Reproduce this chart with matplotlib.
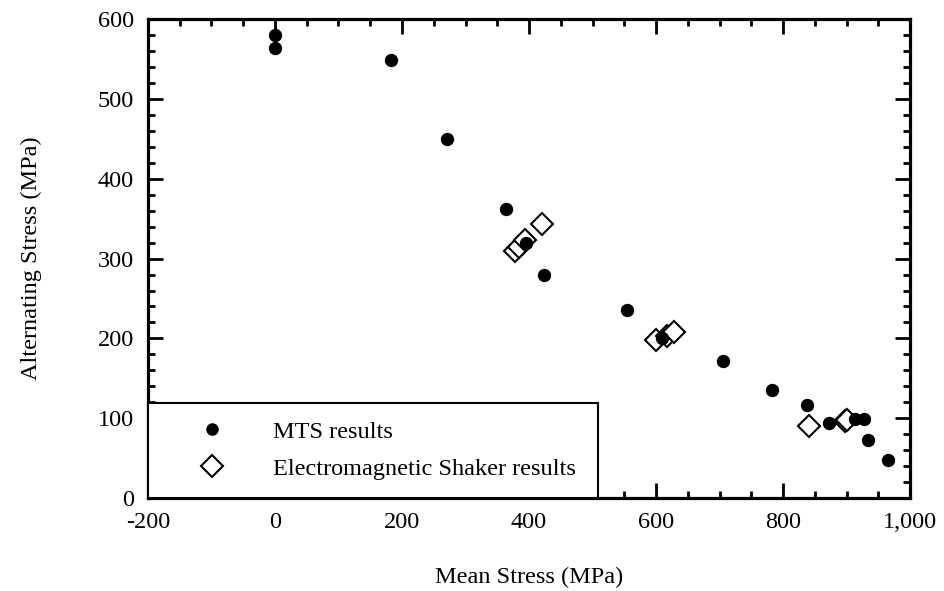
import matplotlib
matplotlib.use('Agg')
import matplotlib.pyplot as plt
from matplotlib.ticker import MultipleLocator, FuncFormatter

# MTS results (mean stress, alternating stress), MPa
mts_mean = [0, 0, 183, 271, 363, 395, 424, 555, 610, 705, 783, 838, 872, 914, 927, 934, 966]
mts_alt = [580, 563, 549, 450, 362, 320, 280, 236, 201, 172, 135, 117, 94, 99, 99, 73, 48]

# Electromagnetic shaker results
shk_mean = [378, 385, 393, 421, 600, 618, 628, 841, 897, 901]
shk_alt = [310, 315, 323, 343, 198, 203, 208, 90, 97, 98]

plt.rcParams['font.family'] = ['Liberation Serif', 'DejaVu Serif']
plt.rcParams['font.size'] = 17.5

fig = plt.figure(figsize=(9.45, 5.91), dpi=100)
ax = fig.add_axes([0.1566, 0.157, 0.8064, 0.811])

ax.plot(mts_mean, mts_alt, 'o', color='black', markersize=8.6, zorder=3,
        label='MTS results')
ax.plot(shk_mean, shk_alt, 'D', markerfacecolor='white', markeredgecolor='black',
        markeredgewidth=1.5, markersize=11, zorder=2, linestyle='none',
        label='Electromagnetic Shaker results')

ax.set_xlim(-200, 1000)
ax.set_ylim(0, 600)
ax.xaxis.set_major_locator(MultipleLocator(200))
ax.xaxis.set_minor_locator(MultipleLocator(50))
ax.yaxis.set_major_locator(MultipleLocator(100))
ax.yaxis.set_minor_locator(MultipleLocator(20))
ax.xaxis.set_major_formatter(FuncFormatter(lambda v, p: f'{int(v):,}'))

ax.tick_params(which='both', direction='in', top=True, right=True, width=2)
ax.tick_params(which='major', length=11, pad=10)
ax.tick_params(which='minor', length=5)
for s in ax.spines.values():
    s.set_linewidth(2.3)

ax.set_xlabel('Mean Stress (MPa)', labelpad=24)
ax.set_ylabel('Alternating Stress (MPa)', labelpad=40)

leg = ax.legend(loc='lower left', bbox_to_anchor=(0, 0, 0.59, 0.198),
                mode='expand', borderaxespad=0, fancybox=False, framealpha=1,
                edgecolor='black', handlelength=3.8, handletextpad=0.6,
                borderpad=0.75, labelspacing=0.62, numpoints=1)
leg.get_frame().set_linewidth(1.5)
leg.legend_handles[0].set_markersize(8)
leg.legend_handles[1].set_markersize(11)

fig.savefig('out.png', dpi=100)
